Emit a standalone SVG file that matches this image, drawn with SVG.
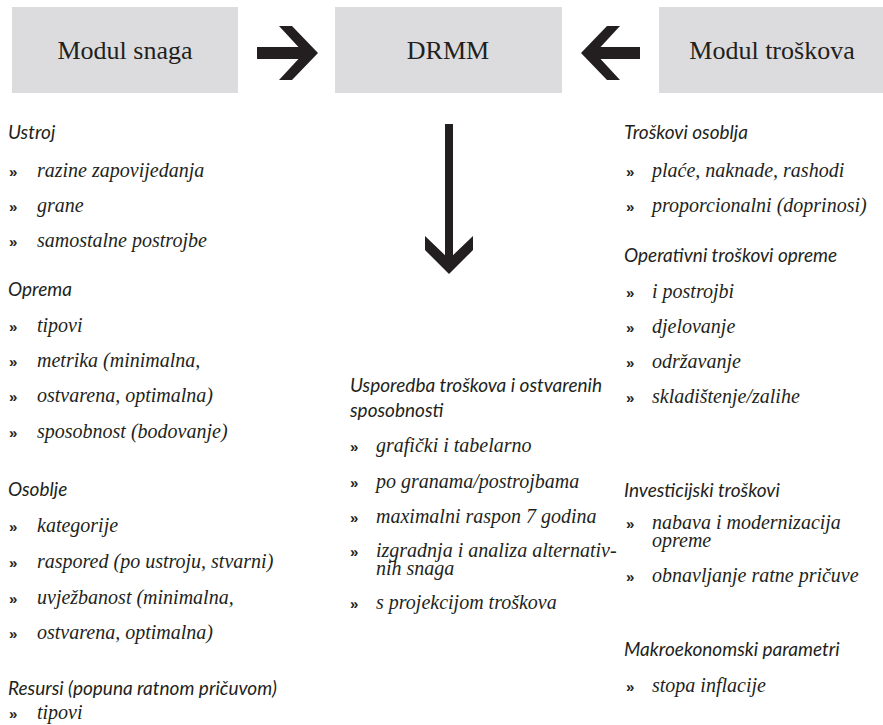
<svg xmlns="http://www.w3.org/2000/svg" width="883" height="725" viewBox="0 0 883 725">
<style>
.box{fill:#dcdcde}
.lbl{font-family:"Liberation Serif",serif;font-size:26px;fill:#231f20;text-anchor:middle}
.hd{font-family:Lato,"Liberation Sans",sans-serif;font-style:italic;font-size:19px;fill:#231f20}
.it{font-family:"Liberation Serif",serif;font-style:italic;font-size:20px;fill:#231f20}
.bu{font-family:"Liberation Sans",sans-serif;font-weight:bold;font-size:15px;fill:#231f20}
.ar{fill:#231f20}
</style>
<rect width="883" height="725" fill="#ffffff"/>
<g id="modul-snaga">
<rect class="box" x="12" y="7" width="226" height="86"/>
<text class="lbl" x="125" y="59">Modul snaga</text>
</g>
<g id="drmm">
<rect class="box" x="335" y="7" width="227" height="86"/>
<text class="lbl" x="448" y="59">DRMM</text>
</g>
<g id="modul-troskova">
<rect class="box" x="659" y="7" width="226" height="86"/>
<text class="lbl" x="772" y="59">Modul troškova</text>
</g>
<g id="connectors">
<rect class="ar" x="257" y="47" width="48" height="12"/>
<polygon class="ar" points="279,26 292,26 318,53 292,80 279,80 304,53"/>
<rect class="ar" x="594" y="47" width="46" height="12"/>
<polygon class="ar" points="620,26 607,26 581,53 607,80 620,80 595,53"/>
<rect class="ar" x="445" y="124" width="8" height="137"/>
<polygon class="ar" points="425,236 449,259 473,236 473,250 449,274 425,250"/>
</g>
<g id="left-list">
<text class="hd" x="8" y="139">Ustroj</text>
<text class="bu" x="9" y="177">»</text><text class="it" x="37" y="177">razine zapovijedanja</text>
<text class="bu" x="9" y="212">»</text><text class="it" x="37" y="212">grane</text>
<text class="bu" x="9" y="247">»</text><text class="it" x="37" y="247">samostalne postrojbe</text>
<text class="hd" x="8" y="296">Oprema</text>
<text class="bu" x="9" y="332">»</text><text class="it" x="37" y="332">tipovi</text>
<text class="bu" x="9" y="367">»</text><text class="it" x="37" y="367">metrika (minimalna,</text>
<text class="bu" x="9" y="402">»</text><text class="it" x="37" y="402">ostvarena, optimalna)</text>
<text class="bu" x="9" y="438">»</text><text class="it" x="37" y="438">sposobnost (bodovanje)</text>
<text class="hd" x="8" y="496">Osoblje</text>
<text class="bu" x="9" y="532">»</text><text class="it" x="37" y="532">kategorije</text>
<text class="bu" x="9" y="568">»</text><text class="it" x="37" y="568">raspored (po ustroju, stvarni)</text>
<text class="bu" x="9" y="604">»</text><text class="it" x="37" y="604">uvježbanost (minimalna,</text>
<text class="bu" x="9" y="639">»</text><text class="it" x="37" y="639">ostvarena, optimalna)</text>
<text class="hd" x="8" y="695">Resursi (popuna ratnom pričuvom)</text>
<text class="bu" x="9" y="719">»</text><text class="it" x="37" y="719">tipovi</text>
</g>
<g id="middle-list">
<text class="hd" x="350" y="392">Usporedba troškova i ostvarenih</text>
<text class="hd" x="350" y="417">sposobnosti</text>
<text class="bu" x="350" y="452">»</text><text class="it" x="376" y="452">grafički i tabelarno</text>
<text class="bu" x="350" y="488">»</text><text class="it" x="376" y="488">po granama/postrojbama</text>
<text class="bu" x="350" y="523">»</text><text class="it" x="376" y="523">maximalni raspon 7 godina</text>
<text class="bu" x="350" y="557">»</text><text class="it" x="376" y="557">izgradnja i analiza alternativ-</text>
<text class="it" x="376" y="575">nih snaga</text>
<text class="bu" x="350" y="609">»</text><text class="it" x="376" y="609">s projekcijom troškova</text>
</g>
<g id="right-list">
<text class="hd" x="624" y="139">Troškovi osoblja</text>
<text class="bu" x="626" y="177">»</text><text class="it" x="652" y="177">plaće, naknade, rashodi</text>
<text class="bu" x="626" y="212">»</text><text class="it" x="652" y="212">proporcionalni (doprinosi)</text>
<text class="hd" x="624" y="262">Operativni troškovi opreme</text>
<text class="bu" x="626" y="298">»</text><text class="it" x="652" y="298">i postrojbi</text>
<text class="bu" x="626" y="333">»</text><text class="it" x="652" y="333">djelovanje</text>
<text class="bu" x="626" y="368">»</text><text class="it" x="652" y="368">održavanje</text>
<text class="bu" x="626" y="403">»</text><text class="it" x="652" y="403">skladištenje/zalihe</text>
<text class="hd" x="624" y="497">Investicijski troškovi</text>
<text class="bu" x="626" y="529">»</text><text class="it" x="652" y="529">nabava i modernizacija</text>
<text class="it" x="652" y="547">opreme</text>
<text class="bu" x="626" y="582">»</text><text class="it" x="652" y="582">obnavljanje  ratne pričuve</text>
<text class="hd" x="624" y="656">Makroekonomski parametri</text>
<text class="bu" x="626" y="692">»</text><text class="it" x="652" y="692">stopa inflacije</text>
</g>
</svg>
